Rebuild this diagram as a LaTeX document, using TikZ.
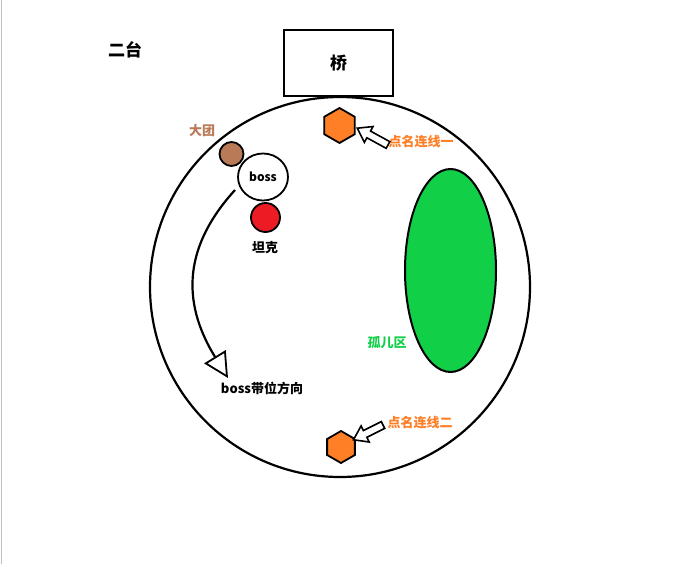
\documentclass[tikz,border=0pt]{standalone}
\usepackage{fontspec}
\setmainfont{Noto Sans CJK SC}
\usetikzlibrary{shapes.geometric,arrows.meta}
\definecolor{hexorange}{RGB}{255,127,39}
\definecolor{zonegreen}{RGB}{17,208,72}
\definecolor{tankred}{RGB}{237,28,36}
\definecolor{groupbrown}{RGB}{185,122,87}
\tikzset{
  outline/.style={draw=black, line width=2pt},
  lbl/.style={font=\bfseries\fontsize{13}{15}\selectfont, inner sep=0pt},
  bigl/.style={font=\bfseries\fontsize{17}{19}\selectfont, inner sep=0pt},
  hexa/.style={regular polygon, regular polygon sides=6, shape border rotate=30,
    fill=hexorange, draw=black, line width=1.8pt, inner sep=0pt},
  blockarrow/.style={draw=black, fill=white, line width=1.6pt, line join=miter},
  roundpt/.style={circle, draw=black, line width=1.8pt, inner sep=0pt}
}
% block arrow of length #1 along local x axis, starting at origin
\newcommand{\myblockarrow}[1]{%
  \draw[blockarrow] (0,-3.8) -- (#1-13,-3.8) -- (#1-13,-9) -- (#1,0) -- (#1-13,9) -- (#1-13,3.8) -- (0,3.8) -- cycle;}
\begin{document}
\begin{tikzpicture}[x=1pt,y=-1pt]
\useasboundingbox (0,0) rectangle (680,564);
\fill[white] (0,0) rectangle (680,564);
\draw[black!25, line width=1pt] (1,0) -- (1,564);
% arena
\node[circle, outline, line width=2.2pt, minimum size=380pt, inner sep=0pt] (arena) at (340,287) {};
% bridge
\node[rectangle, outline, minimum width=109pt, minimum height=66pt, inner sep=0pt, bigl] (bridge) at (338.5,63) {桥};
\node[bigl] (title) at (125,50) {二台};
% orphan zone
\node[ellipse, draw=black, line width=2pt, fill=zonegreen, minimum width=91pt, minimum height=203pt, inner sep=0pt] (orphan) at (450.5,270.5) {};
\node[lbl, text=zonegreen] (orphanlbl) at (387,343) {孤儿区};
% hexagons
\node[hexa, minimum size=35pt] (hexa1) at (339.5,125.5) {};
\node[hexa, minimum size=32pt] (hexa2) at (341,447) {};
\node[lbl, text=hexorange] (call1) at (421,141.5) {点名连线一};
\node[lbl, text=hexorange] (call2) at (420,423) {点名连线二};
\coordinate (tail1) at (388,145);
\coordinate (tail2) at (383,425);
\begin{scope}[shift={(tail1)}, rotate=151.3]
  \myblockarrow{35}
\end{scope}
\begin{scope}[shift={(tail2)}, rotate=206.6]
  \myblockarrow{33}
\end{scope}
% boss group
\node[roundpt, fill=groupbrown, minimum size=24pt] (group) at (231.5,154) {};
\node[lbl, text=groupbrown] (grouplbl) at (202,131) {大团};
\node[ellipse, draw=black, line width=1.8pt, fill=white, minimum width=50pt, minimum height=47pt, inner sep=0pt,
  font=\bfseries\fontsize{12}{14}\selectfont] (boss) at (263,177) {boss};
\node[roundpt, fill=tankred, minimum size=29pt] (tank) at (265.5,217.5) {};
\node[lbl] (tanklbl) at (265,248) {坦克};
\node[lbl] (movelbl) at (262,388) {boss带位方向};
\coordinate (mvstart) at (235,190);
\coordinate (mvend) at (228,378);
\draw[line width=2.2pt, -{Triangle[open, length=25pt, width=25pt, line width=1.8pt]}]
  (mvstart) .. controls (185,245) and (180,300) .. (mvend);
\end{tikzpicture}
\end{document}
